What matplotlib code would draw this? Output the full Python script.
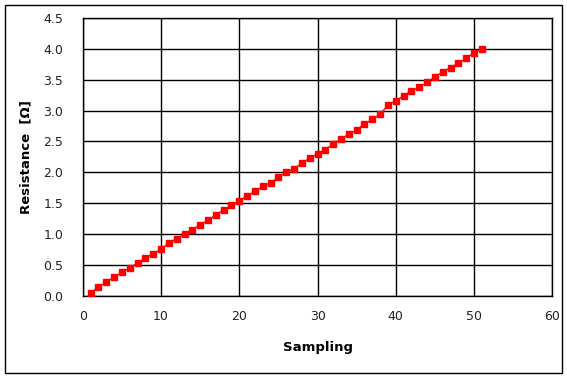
'''Resistance versus sampling index'''
import matplotlib
matplotlib.use('Agg')
import matplotlib.pyplot as plt
from matplotlib.patches import Rectangle

sampling = list(range(1, 52))
resistance = [0.04, 0.14, 0.22, 0.30, 0.38, 0.45, 0.53, 0.61, 0.68, 0.75,
              0.86, 0.92, 1.00, 1.07, 1.15, 1.22, 1.31, 1.39, 1.47, 1.53,
              1.62, 1.69, 1.78, 1.83, 1.92, 2.00, 2.06, 2.15, 2.23, 2.30,
              2.37, 2.46, 2.54, 2.62, 2.69, 2.78, 2.86, 2.94, 3.09, 3.16,
              3.24, 3.32, 3.38, 3.46, 3.55, 3.63, 3.70, 3.77, 3.85, 3.94,
              4.00]
x_ticks = [0, 10, 20, 30, 40, 50, 60]
y_ticks = [0.0, 0.5, 1.0, 1.5, 2.0, 2.5, 3.0, 3.5, 4.0, 4.5]


def plot_resistance():
    '''Draw the chart and save it'''
    fig = plt.figure(figsize=(5.67, 3.79), dpi=100)
    ax = fig.add_axes([0.146, 0.22, 0.828, 0.732])
    ax.plot(sampling, resistance, color='red', linewidth=1,
            marker='s', markersize=4, zorder=3)
    ax.set_xlim(0, 60)
    ax.set_ylim(0, 4.5)
    ax.set_xticks(x_ticks)
    ax.set_yticks(y_ticks)
    ax.set_yticklabels([f'{v:.1f}' for v in y_ticks])
    ax.grid(True, color='black', linewidth=1)
    ax.set_axisbelow(True)
    ax.tick_params(length=0, labelsize=9, colors='#222222')
    ax.tick_params(axis='x', pad=10)
    ax.tick_params(axis='y', pad=14)
    for spine in ax.spines.values():
        spine.set_color('black')
        spine.set_linewidth(1)
    ax.set_xlabel('Sampling', fontsize=9.5, fontweight='bold', labelpad=13)
    ax.set_ylabel('Resistance  [Ω]', fontsize=9.5, fontweight='bold',
                  labelpad=8)
    fig.patches.append(Rectangle((0.009, 0.017), 0.983, 0.97,
                                 transform=fig.transFigure, fill=False,
                                 edgecolor='black', linewidth=1))
    fig.savefig('out.png', dpi=100)


plot_resistance()
